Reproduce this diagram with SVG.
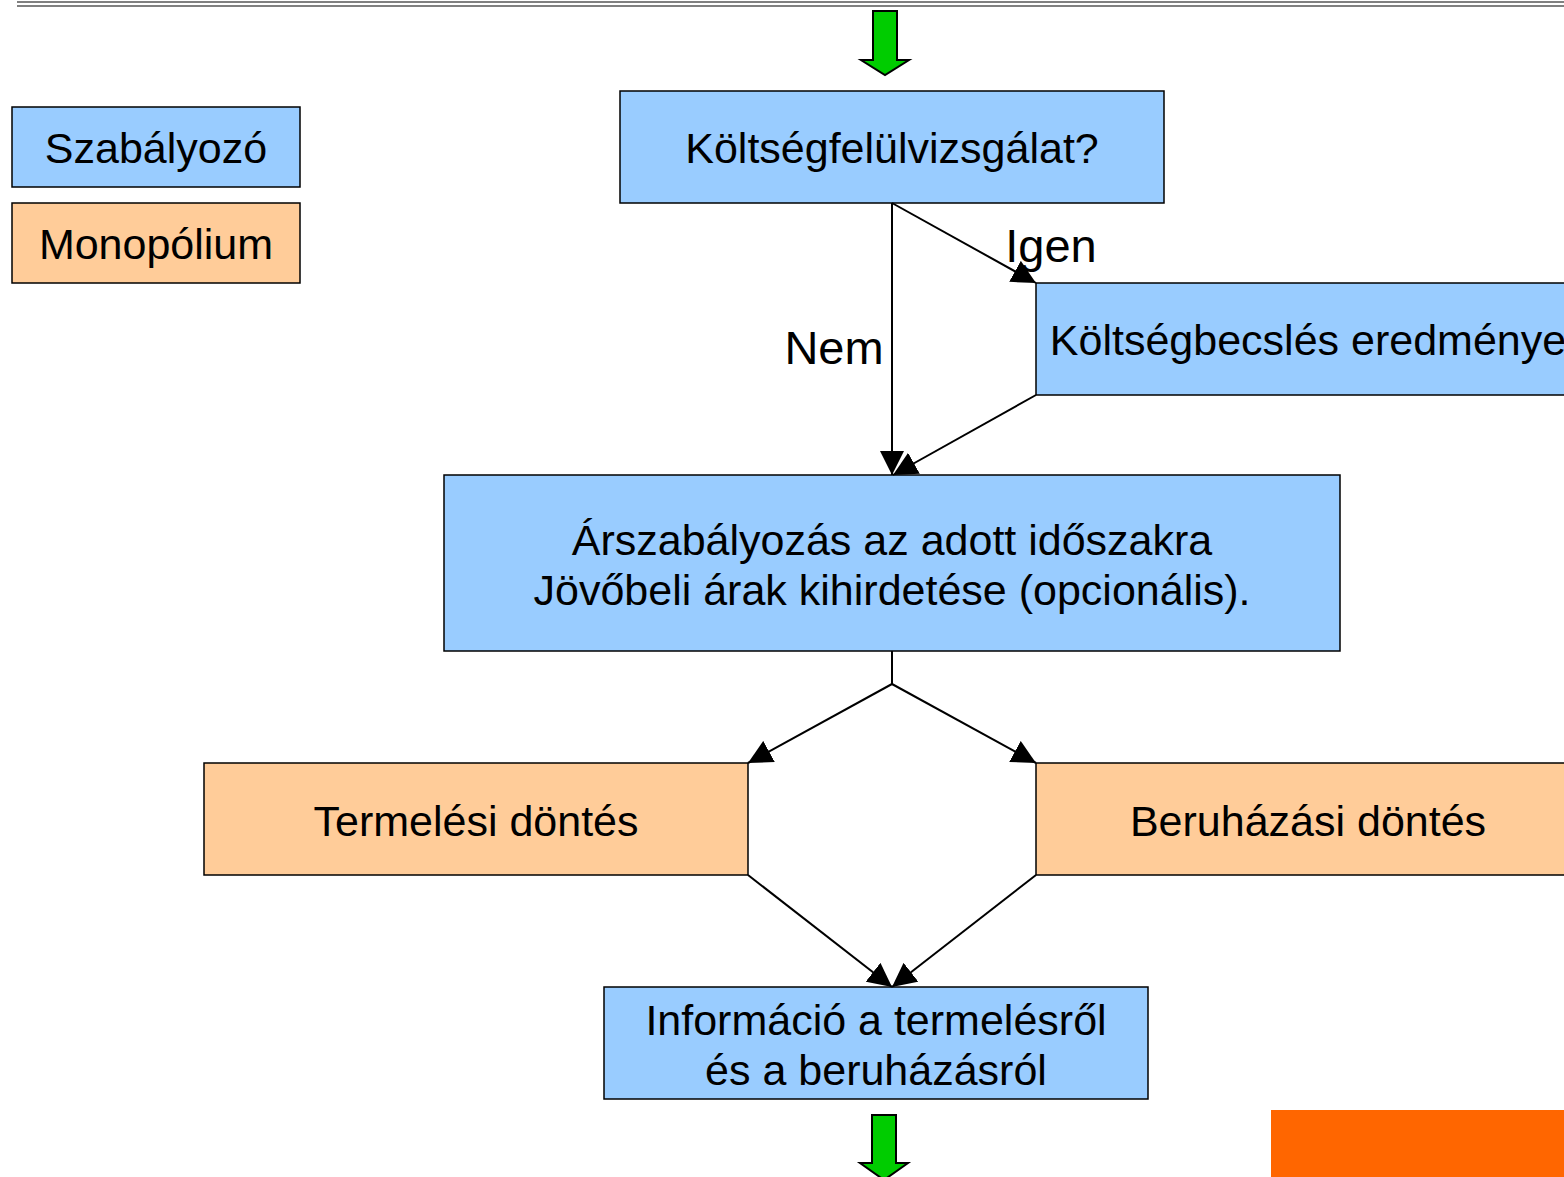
<svg xmlns="http://www.w3.org/2000/svg" width="1564" height="1177" viewBox="0 0 1564 1177">
<style>
.b{fill:#99CCFF;stroke:#000;stroke-width:1.5}
.o{fill:#FFCC99;stroke:#000;stroke-width:1.5}
.t{font-family:"Liberation Sans",Arial,sans-serif;font-size:43px;fill:#000;text-anchor:middle}
.l{font-size:47px}
.c{fill:none;stroke:#000;stroke-width:2}
.g{fill:#00CC00;stroke:#000;stroke-width:2}
</style>
<defs>
<marker id="a" viewBox="0 0 24 24" refX="24" refY="12" markerWidth="24" markerHeight="24" markerUnits="userSpaceOnUse" orient="auto">
<path d="M0,0 L24,12 L0,24 Z" fill="#000"/>
</marker>
</defs>
<rect x="17" y="1" width="1547" height="2" fill="#808080"/>
<rect x="17" y="5" width="1547" height="2" fill="#808080"/>
<g id="legend-regulator"><rect class="b" x="12" y="107" width="288" height="80"/><text class="t" x="156" y="163">Szabályozó</text></g>
<g id="legend-monopoly"><rect class="o" x="12" y="203" width="288" height="80"/><text class="t" x="156" y="259">Monopólium</text></g>
<g id="arrow-top"><path class="g" d="M873,11 L897,11 L897,60 L909,60 L885,75 L861,60 L873,60 Z"/></g>
<g id="n1"><rect class="b" x="620" y="91" width="544" height="112"/><text class="t" x="892" y="163">Költségfelülvizsgálat?</text></g>
<g id="n2"><rect class="b" x="1036" y="283" width="540" height="112"/><text class="t" x="1308" y="355">Költségbecslés eredménye</text></g>
<g id="n3"><rect class="b" x="444" y="475" width="896" height="176"/><text class="t" x="892" y="555">Árszabályozás az adott időszakra</text><text class="t" x="892" y="605">Jövőbeli árak kihirdetése (opcionális).</text></g>
<g id="n4"><rect class="o" x="204" y="763" width="544" height="112"/><text class="t" x="476" y="836">Termelési döntés</text></g>
<g id="n5"><rect class="o" x="1036" y="763" width="540" height="112"/><text class="t" x="1308" y="836">Beruházási döntés</text></g>
<g id="n6"><rect class="b" x="604" y="987" width="544" height="112"/><text class="t" x="876" y="1035">Információ a termelésről</text><text class="t" x="876" y="1085">és a beruházásról</text></g>
<g id="arrow-bottom"><path class="g" d="M872,1115 L896,1115 L896,1163 L908,1163 L884,1180 L860,1163 L872,1163 Z"/></g>
<rect id="orange-block" x="1271" y="1110" width="293" height="67" fill="#FF6600"/>
<g id="connectors">
<line class="c" x1="892" y1="203" x2="892" y2="475" marker-end="url(#a)"/>
<line class="c" x1="892" y1="203" x2="1036" y2="283" marker-end="url(#a)"/>
<line class="c" x1="1036" y1="395" x2="893" y2="475" marker-end="url(#a)"/>
<polyline class="c" points="892,651 892,684"/>
<line class="c" x1="892" y1="684" x2="748" y2="763" marker-end="url(#a)"/>
<line class="c" x1="892" y1="684" x2="1036" y2="763" marker-end="url(#a)"/>
<line class="c" x1="748" y1="875" x2="892" y2="987" marker-end="url(#a)"/>
<line class="c" x1="1036" y1="875" x2="892" y2="987" marker-end="url(#a)"/>
<text class="t l" x="834" y="364">Nem</text>
<text class="t l" x="1051" y="262">Igen</text>
</g>
</svg>
